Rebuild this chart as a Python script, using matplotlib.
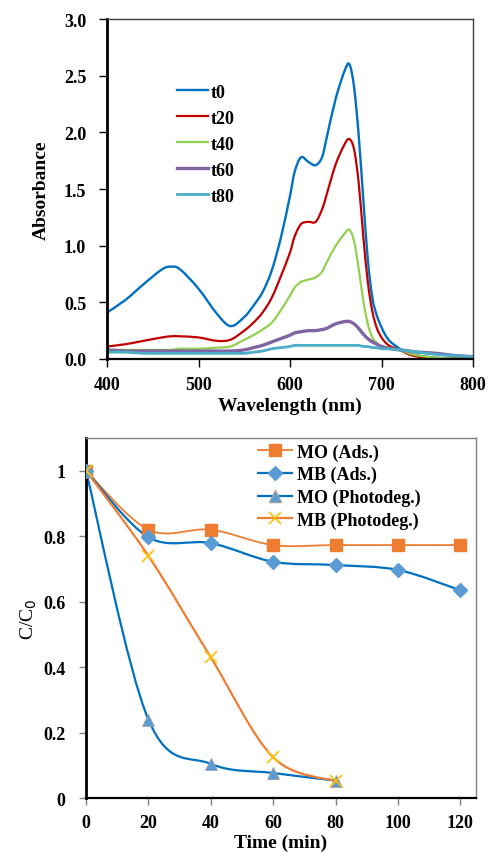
import numpy as np
import matplotlib
matplotlib.use('Agg')
import matplotlib.pyplot as plt
from matplotlib.path import Path
from matplotlib.patches import PathPatch
from matplotlib.lines import Line2D

plt.rcParams['font.family'] = ['Liberation Serif', 'DejaVu Serif']

# ---- top panel: UV-vis spectra ----
wavelength = [400, 420, 440, 460, 470, 480, 500, 520, 535, 550, 560, 570, 580, 590,
              600, 605, 612, 620, 628, 635, 640, 650, 660, 665, 670, 675, 680, 685,
              690, 695, 700, 705, 710, 720, 730, 740, 760, 780, 800]
t0 = [0.41, 0.52, 0.66, 0.79, 0.815, 0.79, 0.62, 0.40, 0.29, 0.37, 0.47, 0.59, 0.78, 1.07,
      1.44, 1.65, 1.78, 1.74, 1.71, 1.78, 1.95, 2.30, 2.55, 2.60, 2.40, 1.98, 1.42, 0.88,
      0.54, 0.38, 0.28, 0.20, 0.15, 0.09, 0.05, 0.03, 0.01, 0.01, 0.015]
t20 = [0.11, 0.13, 0.16, 0.19, 0.20, 0.20, 0.19, 0.16, 0.17, 0.25, 0.32, 0.41, 0.54, 0.73,
       0.94, 1.08, 1.19, 1.21, 1.21, 1.32, 1.45, 1.72, 1.90, 1.94, 1.85, 1.56, 1.09, 0.68,
       0.42, 0.27, 0.19, 0.14, 0.11, 0.08, 0.04, 0.02, 0.0, 0.005, 0.01]
t40 = [0.08, 0.08, 0.08, 0.08, 0.08, 0.09, 0.09, 0.10, 0.11, 0.17, 0.21, 0.26, 0.32, 0.43,
       0.56, 0.63, 0.68, 0.70, 0.72, 0.77, 0.85, 1.00, 1.11, 1.14, 1.04, 0.80, 0.52, 0.31,
       0.19, 0.14, 0.11, 0.10, 0.09, 0.08, 0.05, 0.03, 0.01, 0.005, 0.01]
t60 = [0.08, 0.07, 0.07, 0.07, 0.07, 0.07, 0.07, 0.07, 0.07, 0.08, 0.10, 0.12, 0.15, 0.18,
       0.21, 0.23, 0.24, 0.25, 0.25, 0.26, 0.27, 0.31, 0.33, 0.33, 0.31, 0.27, 0.22, 0.18,
       0.15, 0.13, 0.11, 0.10, 0.09, 0.08, 0.07, 0.06, 0.05, 0.03, 0.02]
t80 = [0.06, 0.06, 0.05, 0.05, 0.05, 0.05, 0.05, 0.05, 0.05, 0.05, 0.06, 0.07, 0.09, 0.10,
       0.11, 0.12, 0.12, 0.12, 0.12, 0.12, 0.12, 0.12, 0.12, 0.12, 0.12, 0.12, 0.11, 0.11,
       0.10, 0.10, 0.09, 0.09, 0.09, 0.08, 0.07, 0.06, 0.04, 0.03, 0.02]
spectra = [t0, t20, t40, t60, t80]
spec_labels = ['t0', 't20', 't40', 't60', 't80']
spec_colors = ['#0070C0', '#C00000', '#92D050', '#8064A2', '#4BACC6']
spec_widths = [1.7, 1.6, 1.6, 2.4, 2.0]

# ---- bottom panel: C/C0 vs time ----
time_ads = [0, 20, 40, 60, 80, 100, 120]
mo_ads = [1.0, 0.82, 0.82, 0.773, 0.773, 0.773, 0.773]
mb_ads = [1.0, 0.797, 0.779, 0.722, 0.712, 0.697, 0.635]
time_photo = [0, 20, 40, 60, 80]
mo_photo = [1.0, 0.24, 0.105, 0.077, 0.054]
mb_photo = [1.0, 0.74, 0.43, 0.125, 0.052]


def smooth_path(x, y):
    # excel style smoothed line: catmull-rom converted to bezier segments
    p = np.column_stack([x, y]).astype(float)
    verts = [p[0]]
    codes = [Path.MOVETO]
    n = len(p)
    for i in range(n - 1):
        p0 = p[i - 1] if i > 0 else p[i]
        p3 = p[i + 2] if i + 2 < n else p[i + 1]
        c1 = p[i] + (p[i + 1] - p0) / 6.0
        c2 = p[i + 1] - (p3 - p[i]) / 6.0
        verts += [c1, c2, p[i + 1]]
        codes += [Path.CURVE4] * 3
    return Path(verts, codes)


def smooth_line(ax, x, y, color, lw):
    ax.add_patch(PathPatch(smooth_path(x, y), fill=False, edgecolor=color, lw=lw,
                           capstyle='round', joinstyle='round'))


fig = plt.figure(figsize=(4.92, 8.54), dpi=100)

# top axes
ax1 = fig.add_axes([0.2175, 0.5785, 0.7439, 0.398])
for s, lab, c, w in zip(spectra, spec_labels, spec_colors, spec_widths):
    smooth_line(ax1, wavelength, s, c, w)
ax1.set_xlim(400, 800)
ax1.set_ylim(0, 3.0)
ax1.set_xticks([400, 500, 600, 700, 800])
ax1.set_yticks(np.arange(0, 3.01, 0.5))
ax1.set_yticklabels(['%.1f' % v for v in np.arange(0, 3.01, 0.5)])
ax1.tick_params(direction='out', length=6, width=1, labelsize=13)
ax1.tick_params(axis='y', pad=9)
ax1.tick_params(axis='x', pad=6)
for lab in ax1.get_xticklabels() + ax1.get_yticklabels():
    lab.set_fontweight('bold')
ax1.set_xlabel('Wavelength (nm)', fontsize=14, fontweight='bold', labelpad=3)
ax1.set_ylabel('Absorbance', fontsize=14, fontweight='bold', labelpad=10)
ax1.spines['left'].set_linewidth(2)
ax1.spines['bottom'].set_linewidth(1.6)
for sp in ['top', 'right']:
    ax1.spines[sp].set_color('#404040')
    ax1.spines[sp].set_linewidth(1)
h1 = [Line2D([], [], color=c, lw=w) for c, w in zip(spec_colors, spec_widths)]
ax1.legend(h1, spec_labels, loc='upper left', bbox_to_anchor=(0.19, 0.81), frameon=False,
           prop={'weight': 'bold', 'size': 13}, handlelength=1.75, handletextpad=0.12,
           labelspacing=0.5, borderpad=0, borderaxespad=0)

# bottom axes
ax2 = fig.add_axes([0.1748, 0.0641, 0.7927, 0.4219])
orange = '#ED7D31'
blue_line = '#0070C0'
blue_mk = '#5B9BD5'
smooth_line(ax2, time_ads, mo_ads, orange, 1.3)
smooth_line(ax2, time_ads, mb_ads, blue_line, 1.6)
smooth_line(ax2, time_photo, mo_photo, blue_line, 1.6)
smooth_line(ax2, time_photo, mb_photo, orange, 1.6)
ax2.plot(time_ads, mo_ads, 's', color=orange, ms=9, zorder=5)
ax2.plot(time_ads, mb_ads, 'D', color=blue_mk, ms=7, zorder=5)
ax2.plot(time_photo, mo_photo, '^', color=blue_mk, mec='#A0A0A0', mew=0.6, ms=9, zorder=5)
ax2.plot(time_photo, mb_photo, 'x', color='#FFC000', ms=9, mew=1.2, zorder=5)
ax2.set_xlim(0, 125)
ax2.set_ylim(0, 1.1)
ax2.set_xticks([0, 20, 40, 60, 80, 100, 120])
ax2.set_yticks([0, 0.2, 0.4, 0.6, 0.8, 1.0])
ax2.set_yticklabels(['0', '0.2', '0.4', '0.6', '0.8', '1'])
ax2.tick_params(direction='out', length=5, width=1, labelsize=13, color='#808080')
ax2.tick_params(axis='y', pad=10)
ax2.tick_params(axis='x', pad=6)
for lab in ax2.get_xticklabels() + ax2.get_yticklabels():
    lab.set_fontweight('bold')
ax2.set_xlabel('Time (min)', fontsize=14, fontweight='bold', labelpad=2)
ax2.set_ylabel('C/C$_0$', fontsize=14, labelpad=3)
ax2.spines['left'].set_linewidth(2)
ax2.spines['bottom'].set_linewidth(1.6)
for sp in ['top', 'right']:
    ax2.spines[sp].set_color('#808080')
    ax2.spines[sp].set_linewidth(1)
h2 = [Line2D([], [], color=orange, lw=1.3, marker='s', ms=9),
      Line2D([], [], color=blue_line, lw=1.6, marker='D', mfc=blue_mk, mec=blue_mk, ms=7),
      Line2D([], [], color=blue_line, lw=1.6, marker='^', mfc=blue_mk, mec='#A0A0A0', ms=9),
      Line2D([], [], color=orange, lw=1.6, marker='x', mec='#FFC000', ms=9, mew=1.2)]
ax2.legend(h2, ['MO (Ads.)', 'MB (Ads.)', 'MO (Photodeg.)', 'MB (Photodeg.)'],
           loc='upper left', bbox_to_anchor=(0.44, 0.985), frameon=False,
           prop={'weight': 'bold', 'size': 13}, handlelength=1.9, handletextpad=0.3,
           labelspacing=0.3, borderpad=0, borderaxespad=0)

fig.savefig('out.png', dpi=100)
